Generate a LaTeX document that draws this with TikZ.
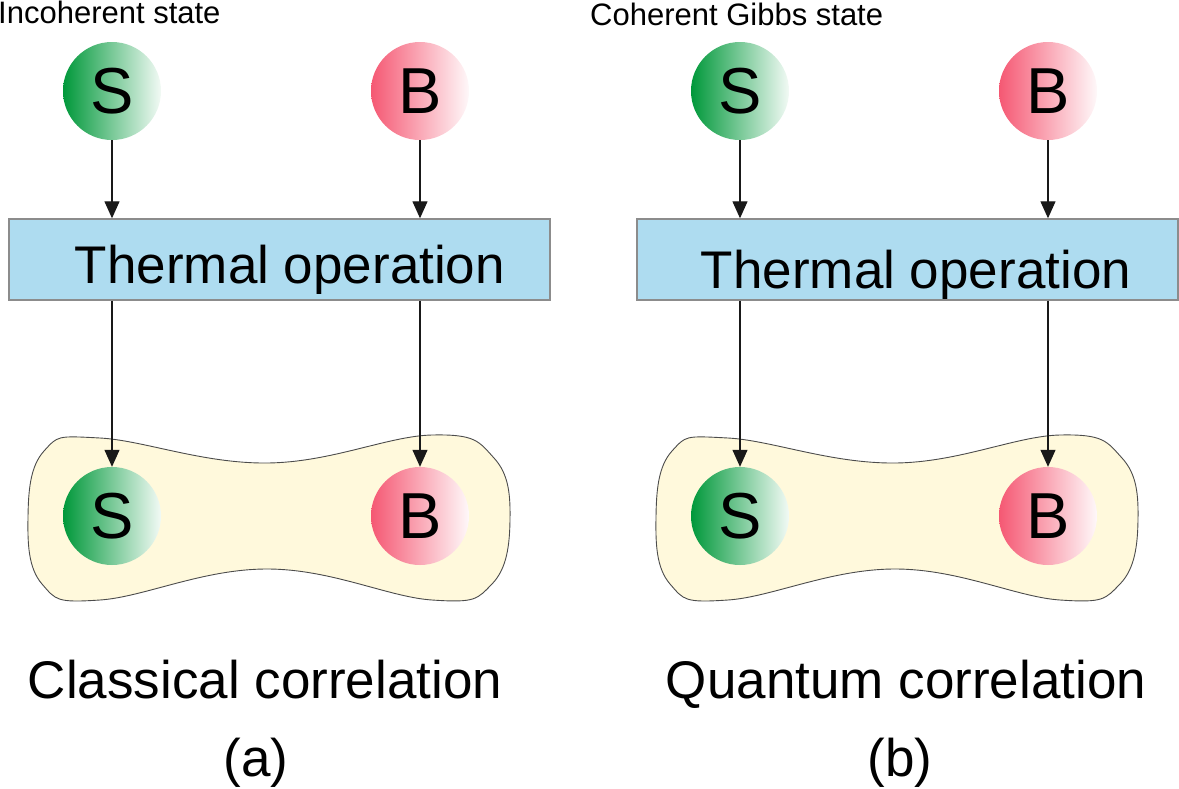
\documentclass[tikz,border=0pt]{standalone}
\usepackage{fontspec}
\setmainfont{Liberation Sans}
\usetikzlibrary{arrows.meta}
\definecolor{sysgreen}{RGB}{0,152,58}
\definecolor{bathred}{RGB}{245,88,115}
\definecolor{opblue}{RGB}{174,220,240}
\definecolor{corrcream}{RGB}{255,249,220}
\tikzset{
  sys/.style={circle, minimum size=98pt, inner sep=0pt,
    left color=sysgreen, right color=white!95!sysgreen,
    font=\fontsize{65}{65}\selectfont},
  bath/.style={sys, left color=bathred, right color=white!96!bathred},
  opbox/.style={rectangle, draw=black!45, line width=1.4pt, fill=opblue,
    minimum width=541pt, minimum height=81pt, inner sep=0pt},
  corr/.style={draw=black!70, line width=0.9pt, fill=corrcream},
  flow/.style={-{Triangle[length=17pt,width=15pt]}, line width=1.2pt, draw=black!90},
  big/.style={inner sep=0pt, font=\fontsize{53}{53}\selectfont},
  small/.style={inner sep=0pt, font=\fontsize{31}{31}\selectfont}
}
\begin{document}
\begin{tikzpicture}[x=1pt, y=1pt]
\useasboundingbox (0,0) rectangle (1179,-788);
\foreach \dx/\p in {0/a, 628/b} {
  \begin{scope}[xshift=\dx]
    \draw[corr] plot[smooth cycle, tension=0.7] coordinates {
      (28,-517) (44,-451) (100,-438) (267,-463) (432,-435)
      (494,-458) (510,-520) (492,-584) (432,-600) (267,-569)
      (100,-600) (42,-584)};
    \node[sys] (s\p) at (112,-91) {S};
    \node[bath] (b\p) at (420,-91) {B};
    \node[opbox] (op\p) at (279.5,-259.5) {};
    \node[sys] (sc\p) at (112,-516) {S};
    \node[bath] (bc\p) at (420,-516) {B};
    \draw[flow] (s\p) -- (s\p |- op\p.north);
    \draw[flow] (b\p) -- (b\p |- op\p.north);
    \draw[flow] (sc\p |- op\p.south) -- (sc\p);
    \draw[flow] (bc\p |- op\p.south) -- (bc\p);
  \end{scope}
}
\node[small, anchor=base west] (inc) at (-2,-23) {Incoherent state};
\node[small, anchor=base west] (coh) at (590,-25) {Coherent Gibbs state};
\node[big, anchor=base] (opta) at (290,-283) {Thermal operation};
\node[big, anchor=base] (optb) at (916,-288) {Thermal operation};
\node[big, anchor=base] (cla) at (265,-698) {Classical correlation};
\node[big, anchor=base] (qua) at (906,-698) {Quantum correlation};
\node[big, anchor=base] (capa) at (256,-776) {(a)};
\node[big, anchor=base] (capb) at (900,-776) {(b)};
\end{tikzpicture}
\end{document}
